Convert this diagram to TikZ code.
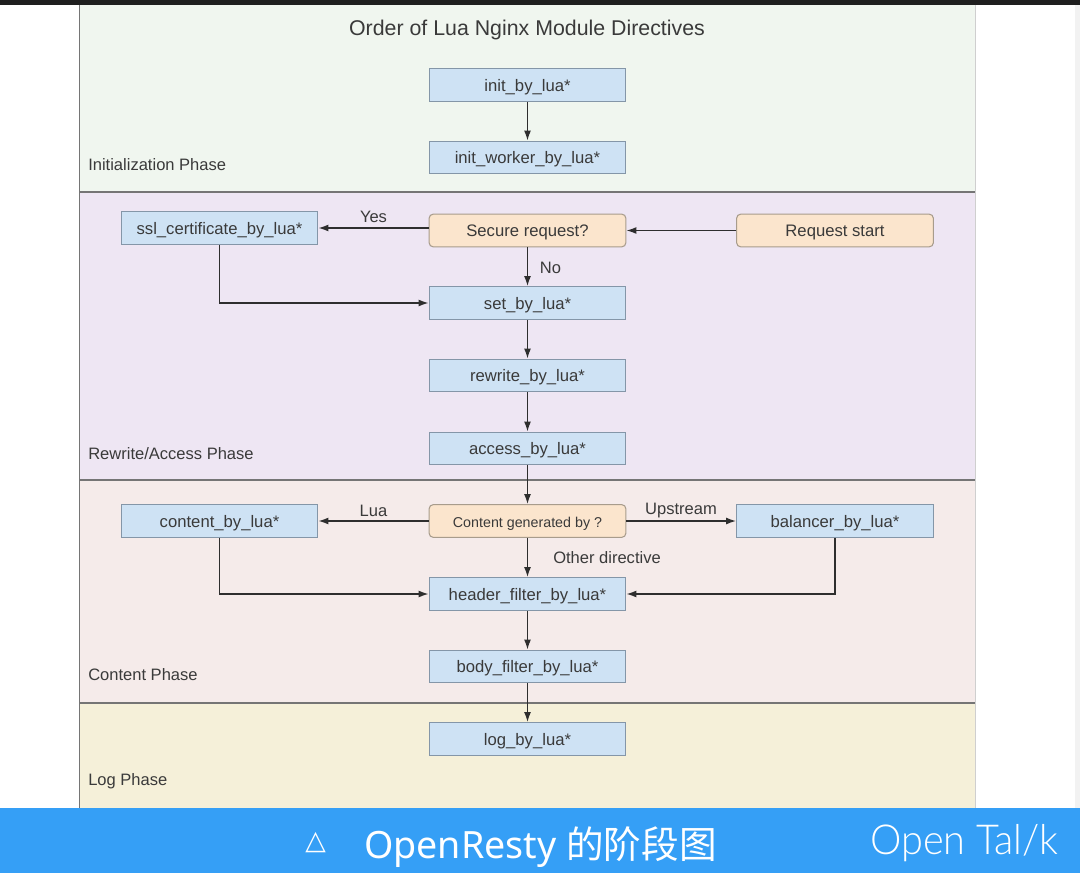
\documentclass[tikz,border=0pt]{standalone}
\usepackage{fontspec}
\usepackage{xcolor}
\usetikzlibrary{arrows.meta}
\setmainfont{Liberation Sans}
\newfontfamily\cjkfont{Noto Sans CJK SC}
\newfontfamily\capfont{Noto Sans}
\newfontfamily\symfont{DejaVu Sans}
\newfontfamily\talkfont{Lato Light}
\definecolor{initband}{HTML}{F0F6EF}
\definecolor{rewriteband}{HTML}{EEE6F3}
\definecolor{contentband}{HTML}{F5EBEA}
\definecolor{logband}{HTML}{F5F0D9}
\definecolor{phaseline}{HTML}{757575}
\definecolor{inktext}{HTML}{3A3A3A}
\definecolor{luafill}{HTML}{CEE2F4}
\definecolor{luadraw}{HTML}{8496A8}
\definecolor{askfill}{HTML}{FBE5CD}
\definecolor{askdraw}{HTML}{A89C8C}
\definecolor{capbar}{HTML}{359FF6}
\tikzset{
  luabox/.style={draw=luadraw,fill=luafill,line width=0.8pt,minimum width=147.5pt,minimum height=24.5pt,inner sep=0pt,text height=11pt,text depth=1.5pt,text=inktext,font=\fontsize{12.5}{14}\selectfont},
  askbox/.style={luabox,draw=askdraw,fill=askfill,rounded corners=3pt},
  phasetext/.style={text=inktext,anchor=west,inner sep=0pt,font=\fontsize{12.4}{14}\selectfont},
  edgetext/.style={text=inktext,inner sep=0pt,font=\fontsize{12.4}{14}\selectfont},
  flow/.style={draw=black!82,line width=1.1pt,-{Latex[length=7.5pt,width=5.2pt]}}
}
\begin{document}
\begin{tikzpicture}[x=0.75pt,y=-0.75pt]
\useasboundingbox (0,0) rectangle (1080,873);
\fill[white] (0,0) rectangle (1080,873);
\fill[black!88] (0,0) rectangle (1080,5);
\fill[black!5] (1075,5) rectangle (1080,808);

    % phase bands
    \fill[initband] (79,5) rectangle (975,192);
    \fill[rewriteband] (79,192) rectangle (975,480);
    \fill[contentband] (79,480) rectangle (975,703);
    \fill[logband] (79,703) rectangle (975,808);
    \draw[phaseline,line width=0.7pt] (79,5) -- (79,808);
    \draw[phaseline!35,line width=0.5pt] (975,5) -- (975,808);
    \draw[phaseline,line width=0.8pt] (79,192) -- (975,192);
    \draw[phaseline,line width=0.8pt] (79,480) -- (975,480);
    \draw[phaseline,line width=0.8pt] (79,703) -- (975,703);

    \node[text=inktext,font=\fontsize{16}{19}\selectfont] (title) at (527,30) {Order of Lua Nginx Module Directives};
    \node[phasetext] (initphase) at (88,164.5) {Initialization Phase};
    \node[phasetext] (rewritephase) at (88,454) {Rewrite/Access Phase};
    \node[phasetext] (contentphase) at (88,675) {Content Phase};
    \node[phasetext] (logphase) at (88,781) {Log Phase};

    % boxes
    \node[luabox] (initlua) at (527.5,85) {init\_by\_lua*};
    \node[luabox] (workerlua) at (527.5,157.5) {init\_worker\_by\_lua*};
    \node[luabox] (ssllua) at (219.5,228) {ssl\_certificate\_by\_lua*};
    \node[askbox] (secure) at (527.5,230.5) {Secure request?};
    \node[askbox] (reqstart) at (835,230.5) {Request start};
    \node[luabox] (setlua) at (527.5,303) {set\_by\_lua*};
    \node[luabox] (rewritelua) at (527.5,375.5) {rewrite\_by\_lua*};
    \node[luabox] (accesslua) at (527.5,448.5) {access\_by\_lua*};
    \node[luabox] (contentlua) at (219.5,521) {content\_by\_lua*};
    \node[askbox,font=\fontsize{10.7}{12}\selectfont] (generated) at (527.5,521) {Content generated by ?};
    \node[luabox] (balancerlua) at (835,521) {balancer\_by\_lua*};
    \node[luabox] (headerlua) at (527.5,594) {header\_filter\_by\_lua*};
    \node[luabox] (bodylua) at (527.5,666.5) {body\_filter\_by\_lua*};
    \node[luabox] (loglua) at (527.5,739) {log\_by\_lua*};

    % connectors
    \draw[flow] (initlua) -- (workerlua);
    \draw[flow] (reqstart) -- (secure);
    \draw[flow] (secure.west |- ssllua.east) -- (ssllua.east);
    \draw[flow] (secure) -- (setlua);
    \draw[flow] (ssllua.south) |- (setlua.west);
    \draw[flow] (setlua) -- (rewritelua);
    \draw[flow] (rewritelua) -- (accesslua);
    \draw[flow] (accesslua) -- (generated);
    \draw[flow] (generated) -- (contentlua);
    \draw[flow] (generated) -- (balancerlua);
    \draw[flow] (generated) -- (headerlua);
    \draw[flow] (contentlua.south) |- (headerlua.west);
    \draw[flow] (balancerlua.south) |- (headerlua.east);
    \draw[flow] (headerlua) -- (bodylua);
    \draw[flow] (bodylua) -- (loglua);

    \node[edgetext] (yes) at (373.5,217) {Yes};
    \node[edgetext] (no) at (550.5,267.5) {No};
    \node[edgetext] (lua) at (373.5,510.5) {Lua};
    \node[edgetext] (upstream) at (681,510.5) {Upstream};
    \node[edgetext] (other) at (607,558) {Other directive};

    % caption bar
    \fill[capbar] (0,808) rectangle (1080,873);
    \node[text=white,inner sep=0pt,font=\symfont\fontsize{20}{24}\selectfont] (capmark) at (315.5,843) {△};
    \node[text=white,inner sep=0pt,anchor=west,font=\fontsize{28.2}{32}\selectfont] (captext) at (364,847) {\capfont OpenResty \cjkfont 的阶段图};
    \node[text=white,inner sep=0pt,anchor=base west,font=\talkfont\fontsize{31}{36}\selectfont] (talk) at (870,854) {\scalebox{0.96}[1]{Open Tal/k}};
\end{tikzpicture}
\end{document}
